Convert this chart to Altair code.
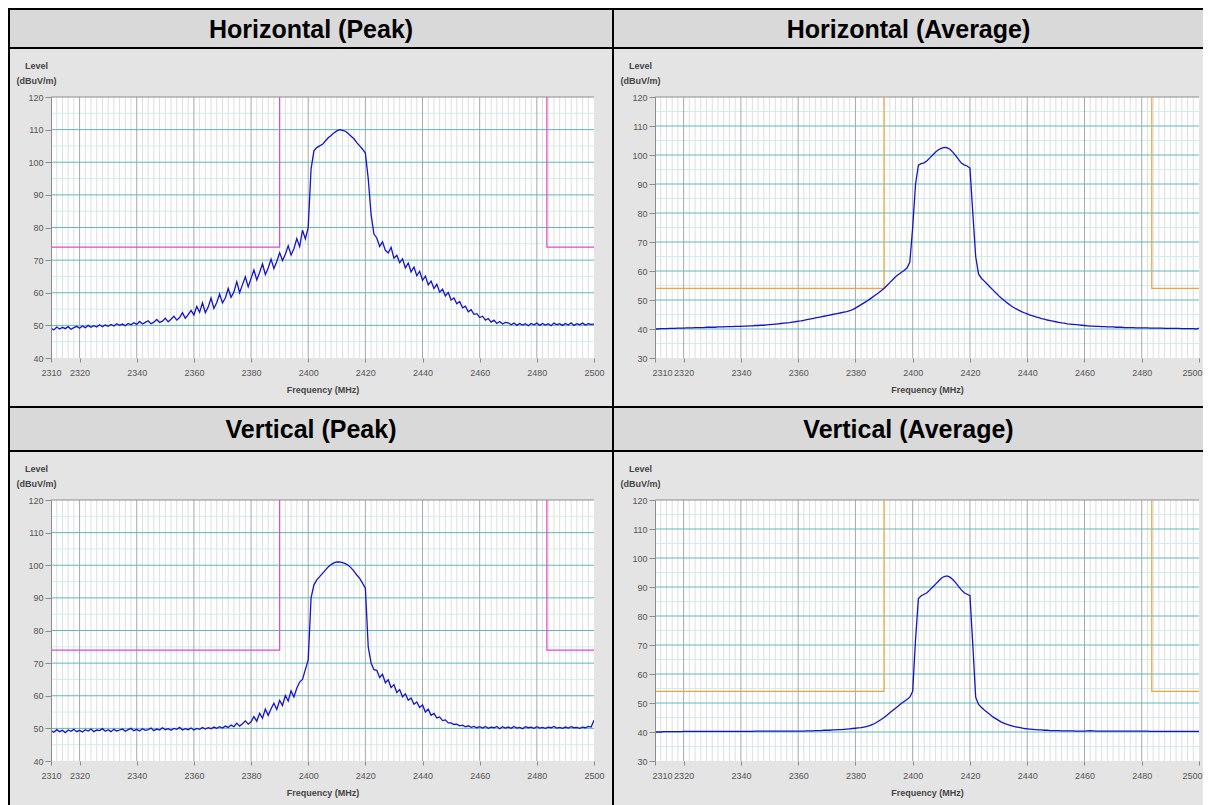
import altair as alt
import pandas as pd

# ---------------- data ----------------
FREQ = list(range(2310, 2501))  # MHz, 1 MHz steps

H_PEAK = [
    49.2, 48.6, 49.5, 48.9, 49.4, 49.0, 49.6, 48.8, 49.3, 49.7,
    49.1, 49.8, 49.3, 50.0, 49.4, 49.9, 49.5, 50.2, 49.6, 50.1,
    49.7, 50.3, 49.8, 50.5, 50.0, 50.4, 49.9, 50.6, 50.2, 50.8,
    50.3, 51.2, 50.4, 50.9, 51.4, 50.5, 51.0, 51.8, 50.9, 51.3,
    52.2, 51.1, 51.9, 52.8, 51.6, 52.4, 53.9, 52.2, 53.3, 54.6,
    53.2, 55.8, 54.0, 56.9, 53.9, 55.6, 58.4, 55.2, 57.0, 59.6,
    56.9, 58.4, 61.3, 58.6, 60.2, 63.4, 60.0, 62.5, 64.9, 61.8,
    64.4, 67.0, 63.9, 66.2, 68.9, 65.6, 67.6, 70.3, 67.4, 69.6,
    72.3, 69.9, 71.8, 74.4, 71.6, 73.5, 76.6, 74.1, 79.2, 76.5,
    80.0, 98.0, 103.5, 104.5, 105.0, 105.5, 106.5, 107.5, 108.2, 109.0,
    109.6, 110.0, 109.8, 109.5, 108.8, 108.0, 107.2, 106.0, 105.0, 104.0,
    102.8, 95.0, 84.0, 78.0, 76.8, 74.2, 75.6, 73.0, 72.2, 73.9,
    70.6, 71.5, 69.2, 70.4, 67.6, 69.1, 66.4, 67.9, 65.2, 66.6,
    63.8, 65.1, 62.4, 63.6, 61.3, 62.6, 60.2, 61.1, 59.0, 60.1,
    57.8, 58.4, 56.6, 57.3, 55.4, 55.9, 54.2, 54.8, 53.4, 53.6,
    52.4, 52.8, 51.6, 52.1, 51.0, 51.6, 50.6, 51.2, 50.4, 50.9,
    50.8, 50.2, 50.7, 50.0, 50.6, 50.1, 50.5, 49.9, 50.6, 50.2,
    50.7, 50.0, 50.6, 50.1, 50.5, 49.9, 50.7, 50.2, 50.5, 50.0,
    50.6, 50.1, 50.8, 50.0, 50.5, 50.2, 50.7, 50.1, 50.5, 50.3,
    50.4,
]

H_AVG = [
    40.0, 40.0, 40.1, 40.1, 40.1, 40.2, 40.2, 40.2, 40.3, 40.3,
    40.3, 40.4, 40.4, 40.4, 40.5, 40.5, 40.5, 40.5, 40.6, 40.6,
    40.6, 40.6, 40.7, 40.7, 40.7, 40.8, 40.8, 40.8, 40.9, 40.9,
    40.9, 41.0, 41.0, 41.1, 41.1, 41.2, 41.2, 41.3, 41.3, 41.4,
    41.5, 41.6, 41.7, 41.8, 41.9, 42.0, 42.1, 42.2, 42.4, 42.5,
    42.7, 42.8, 43.0, 43.2, 43.4, 43.6, 43.8, 44.0, 44.2, 44.4,
    44.6, 44.8, 45.0, 45.2, 45.4, 45.6, 45.8, 46.0, 46.3, 46.7,
    47.2, 47.8, 48.4, 49.0, 49.6, 50.3, 51.0, 51.7, 52.4, 53.2,
    54.0, 55.0, 56.0, 57.0, 58.0, 58.8, 59.5, 60.2, 61.0, 63.0,
    75.0, 90.0, 96.5, 97.0, 97.3, 98.0, 99.0, 100.0, 101.0, 101.8,
    102.3, 102.6, 102.5, 102.0, 101.0, 99.8, 98.5, 97.2, 96.6, 96.2,
    95.5, 80.0, 65.0, 59.0, 57.5, 56.5, 55.5, 54.5, 53.5, 52.5,
    51.5, 50.6, 49.8, 49.0, 48.3, 47.6, 47.0, 46.5, 46.0, 45.6,
    45.2, 44.8, 44.5, 44.2, 43.9, 43.6, 43.4, 43.1, 42.9, 42.7,
    42.5, 42.3, 42.1, 42.0, 41.8, 41.7, 41.6, 41.5, 41.4, 41.3,
    41.2, 41.1, 41.0, 41.0, 40.9, 40.9, 40.8, 40.8, 40.7, 40.7,
    40.7, 40.6, 40.6, 40.6, 40.5, 40.5, 40.5, 40.5, 40.4, 40.4,
    40.4, 40.4, 40.4, 40.3, 40.3, 40.3, 40.3, 40.3, 40.2, 40.2,
    40.2, 40.2, 40.2, 40.2, 40.1, 40.1, 40.1, 40.1, 40.1, 40.0,
    40.3,
]

V_PEAK = [
    49.3, 48.8, 49.6, 49.0, 49.4, 48.7, 49.5, 49.1, 49.7, 49.0,
    49.4, 48.9, 49.6, 49.2, 49.8, 49.0, 49.5, 49.3, 49.9, 49.1,
    49.6, 49.0, 49.7, 49.2, 49.5, 49.8, 49.1, 49.6, 50.0, 49.3,
    49.7, 49.2, 49.9, 49.4, 49.6, 50.1, 49.3, 49.8, 49.5, 50.2,
    49.6, 49.9, 49.4, 50.0, 49.7, 50.3, 49.5, 49.9, 49.6, 50.1,
    49.5, 50.0, 49.7, 50.3, 49.8, 50.2, 49.9, 50.4, 50.0, 50.5,
    50.1, 50.7, 50.3, 51.0, 50.5, 51.6, 50.7, 51.4, 52.3, 51.3,
    52.0, 53.6, 52.2, 54.6, 53.1, 55.9, 54.0, 56.0, 57.7, 55.8,
    58.6, 57.0, 60.1, 58.4, 61.5, 59.6, 62.3, 64.2, 65.0, 68.0,
    71.0, 90.0, 94.0, 95.5, 96.5, 97.5, 98.5, 99.5, 100.2, 100.7,
    101.0, 101.0, 100.8, 100.5, 100.0, 99.2, 98.2, 97.0, 96.0, 94.5,
    93.0, 75.0, 70.0, 68.0, 67.8, 65.6, 66.6, 64.0, 64.9, 62.5,
    63.4, 61.0, 61.9, 59.7, 60.6, 58.6, 59.3, 57.4, 58.1, 56.4,
    57.2, 55.0, 55.9, 54.0, 54.6, 53.2, 53.5, 52.4, 52.6, 51.7,
    51.7, 51.2, 51.3, 50.8, 51.0, 50.5, 50.8, 50.3, 50.6, 50.2,
    50.5, 50.1, 50.6, 50.0, 50.4, 50.2, 50.6, 49.9, 50.5, 50.1,
    50.4, 50.0, 50.6, 50.1, 50.3, 49.9, 50.5, 50.2, 50.4, 50.0,
    50.5, 50.1, 50.3, 50.0, 50.4, 50.2, 50.6, 50.1, 50.3, 50.0,
    50.4, 50.1, 50.5, 50.2, 50.3, 50.0, 50.4, 50.2, 50.6, 50.4,
    52.5,
]

V_AVG = [
    40.0, 40.0, 40.0, 40.1, 40.1, 40.1, 40.1, 40.1, 40.1, 40.1,
    40.2, 40.2, 40.2, 40.2, 40.2, 40.2, 40.2, 40.2, 40.2, 40.2,
    40.2, 40.2, 40.2, 40.2, 40.2, 40.2, 40.2, 40.2, 40.2, 40.2,
    40.2, 40.2, 40.2, 40.2, 40.2, 40.3, 40.3, 40.3, 40.3, 40.3,
    40.3, 40.3, 40.3, 40.3, 40.3, 40.3, 40.3, 40.3, 40.3, 40.3,
    40.3, 40.3, 40.3, 40.4, 40.4, 40.4, 40.5, 40.5, 40.5, 40.6,
    40.6, 40.6, 40.7, 40.7, 40.8, 40.8, 40.9, 41.0, 41.1, 41.2,
    41.3, 41.4, 41.5, 41.7, 41.9, 42.2, 42.6, 43.1, 43.7, 44.3,
    45.0, 45.8, 46.6, 47.4, 48.2, 49.0, 49.8, 50.5, 51.2, 52.0,
    54.0, 72.0, 86.0, 87.0, 87.5, 88.0, 89.0, 90.0, 91.0, 92.0,
    93.0, 93.6, 93.8, 93.4, 92.6, 91.5, 90.2, 89.0, 88.0, 87.5,
    87.0, 70.0, 52.0, 49.5, 48.5, 47.6, 46.8, 46.0, 45.2, 44.6,
    44.0, 43.4, 43.0, 42.6, 42.3, 42.0, 41.8, 41.6, 41.4, 41.2,
    41.1, 41.0, 40.9, 40.8, 40.7, 40.7, 40.6, 40.6, 40.5, 40.5,
    40.5, 40.5, 40.4, 40.4, 40.4, 40.4, 40.4, 40.3, 40.3, 40.3,
    40.3, 40.4, 40.5, 40.4, 40.3, 40.3, 40.3, 40.3, 40.3, 40.3,
    40.3, 40.3, 40.3, 40.3, 40.3, 40.3, 40.3, 40.3, 40.3, 40.3,
    40.3, 40.3, 40.3, 40.2, 40.2, 40.2, 40.2, 40.2, 40.2, 40.2,
    40.2, 40.2, 40.2, 40.2, 40.2, 40.2, 40.2, 40.2, 40.2, 40.2,
    40.2,
]

X_TICKS = [2310, 2320, 2340, 2360, 2380, 2400, 2420, 2440, 2460, 2480, 2500]
X_MAJOR_GRID = [2320, 2340, 2360, 2380, 2400, 2420, 2440, 2460, 2480]
X_MINOR_GRID = [f for f in range(2312, 2500, 2) if f not in X_MAJOR_GRID]

PEAK_LIMIT = 74
AVG_LIMIT = 54
BAND_EDGE_LO = 2390
BAND_EDGE_HI = 2483.5

TITLES = ["Horizontal (Peak)", "Horizontal (Average)", "Vertical (Peak)", "Vertical (Average)"]

# ---------------- style ----------------
FONT = "Liberation Sans"
PANEL_BG = "#e4e4e4"
HEADER_BG = "#d9d9d9"
TRACE = "#1414c8"
PEAK_LIM_COLOR = "#e048c8"
AVG_LIM_COLOR = "#f2a23a"
TEAL = "#5cbaba"
TEAL_LIGHT = "#cdeeee"
GRID_MINOR = "#dedede"
GRID_MAJOR = "#a8a8a8"

PLOT_H = 261
LEFT_PAD = 41
ONE = alt.Data(values=[{"k": 0}])


def header(text, w, rmargin, h):
    rect = alt.Chart(ONE).mark_rect(fill=HEADER_BG).encode(
        x=alt.value(-LEFT_PAD), x2=alt.value(w + rmargin), y=alt.value(0), y2=alt.value(h)
    )
    txt = alt.Chart(ONE).mark_text(
        font=FONT, fontSize=25, fontWeight="bold", color="black", baseline="middle", align="center"
    ).encode(x=alt.value((w + rmargin - LEFT_PAD) / 2), y=alt.value(h / 2 + 1), text=alt.value(text))
    return alt.layer(rect, txt).properties(width=w, height=h)


def panel(values, ymin, limit, lcolor, w, rmargin, bmargin, flush):
    h = PLOT_H
    xs = alt.Scale(domain=[2310, 2500], nice=False, zero=False)
    ys = alt.Scale(domain=[ymin, 120], nice=False, zero=False)
    flush_kw = {"labelFlush": True, "labelFlushOffset": 3} if flush else {"labelFlush": False}
    ax_x = alt.Axis(
        values=X_TICKS, format="d", title="Frequency (MHz)",
        labelFont=FONT, labelFontSize=9, labelColor="#555555",
        titleFont=FONT, titleFontSize=9, titleFontWeight="bold", titleColor="#444444",
        domain=False, ticks=True, tickSize=4, tickColor="#888888",
        labelPadding=6, titlePadding=8, grid=False, labelOverlap=False,
        zindex=2, **flush_kw,
    )
    ax_y = alt.Axis(
        values=list(range(ymin, 121, 10)), title=["Level", "(dBuV/m)"],
        titleAngle=0, titleAlign="center", titleBaseline="top",
        titleX=-15, titleY=-36, titleFont=FONT, titleFontSize=9,
        titleFontWeight="bold", titleColor="#444444", titleLineHeight=15,
        labelFont=FONT, labelFontSize=9, labelColor="#555555",
        domain=True, domainColor="#8c8c8c", tickSize=6, tickColor="#8c8c8c",
        labelPadding=2, grid=False, zindex=2,
    )
    X = lambda: alt.X("f:Q", scale=xs, axis=ax_x)
    Y = lambda: alt.Y("v:Q", scale=ys, axis=ax_y)

    frame = alt.Chart(ONE).mark_rect(fill=PANEL_BG).encode(
        x=alt.value(-LEFT_PAD), x2=alt.value(w + rmargin), y=alt.value(-48), y2=alt.value(h + bmargin)
    )
    white = alt.Chart(ONE).mark_rect(fill="white").encode(
        x=alt.value(0), x2=alt.value(w), y=alt.value(0), y2=alt.value(h)
    )
    vminor = alt.Chart(pd.DataFrame({"f": X_MINOR_GRID})).mark_rule(
        color=GRID_MINOR, strokeWidth=1
    ).encode(x=X())
    hminor_vals = [v + 5 for v in range(ymin, 120, 10)]
    hminor = alt.Chart(pd.DataFrame({"v": hminor_vals})).mark_rule(
        color=TEAL_LIGHT, strokeWidth=1
    ).encode(y=Y())
    hmajor = alt.Chart(pd.DataFrame({"v": list(range(ymin + 10, 120, 10))})).mark_rule(
        color=TEAL, strokeWidth=1
    ).encode(y=Y())
    vmajor = alt.Chart(pd.DataFrame({"f": X_MAJOR_GRID})).mark_rule(
        color=GRID_MAJOR, strokeWidth=1
    ).encode(x=X())
    top = alt.Chart(pd.DataFrame({"v": [120]})).mark_rule(color="#8c8c8c", strokeWidth=1).encode(y=Y())

    lim_df = pd.DataFrame({
        "seg": [0, 0, 0, 1, 1, 1],
        "o": [0, 1, 2, 0, 1, 2],
        "f": [2310, BAND_EDGE_LO, BAND_EDGE_LO, BAND_EDGE_HI, BAND_EDGE_HI, 2500],
        "v": [limit, limit, 120, 120, limit, limit],
    })
    lim = alt.Chart(lim_df).mark_line(color=lcolor, strokeWidth=1.2, clip=True).encode(
        x=X(), y=Y(), detail="seg:N", order="o:Q",
    )

    df = pd.DataFrame({"f": FREQ, "v": values})
    trace = alt.Chart(df).mark_line(color=TRACE, strokeWidth=1.3, clip=True).encode(x=X(), y=Y())
    return alt.layer(frame, white, vminor, hminor, vmajor, hmajor, top, lim, trace).properties(
        width=w, height=h
    )


LEFT_W, RIGHT_W = 543, 544
LEFT_R, RIGHT_R = 18, 4
BOTTOM = 48

row1 = alt.hconcat(header(TITLES[0], LEFT_W, LEFT_R, 37), header(TITLES[1], RIGHT_W, RIGHT_R, 37), spacing=2)
row2 = alt.hconcat(
    panel(H_PEAK, 40, PEAK_LIMIT, PEAK_LIM_COLOR, LEFT_W, LEFT_R, BOTTOM, False),
    panel(H_AVG, 30, AVG_LIMIT, AVG_LIM_COLOR, RIGHT_W, RIGHT_R, BOTTOM, True),
    spacing=2,
)
row3 = alt.hconcat(header(TITLES[2], LEFT_W, LEFT_R, 42), header(TITLES[3], RIGHT_W, RIGHT_R, 42), spacing=2)
row4 = alt.hconcat(
    panel(V_PEAK, 40, PEAK_LIMIT, PEAK_LIM_COLOR, LEFT_W, LEFT_R, BOTTOM, False),
    panel(V_AVG, 30, AVG_LIMIT, AVG_LIM_COLOR, RIGHT_W, RIGHT_R, BOTTOM, True),
    spacing=2,
)

chart = alt.vconcat(row1, row2, row3, row4, spacing=2).properties(
    background="black",
    padding={"left": 2, "top": 2, "right": 0, "bottom": 0},
).configure_view(stroke=None)

chart.save("out.html", embed_options={"renderer": "svg", "actions": False})
